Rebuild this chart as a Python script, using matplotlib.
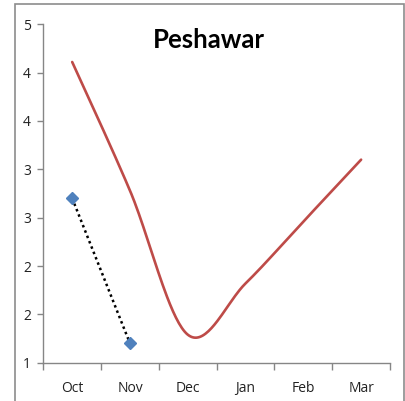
import numpy as np
import matplotlib
matplotlib.use("Agg")
import matplotlib.pyplot as plt
from matplotlib.patches import Rectangle
from matplotlib.ticker import FixedLocator, FixedFormatter

months = ["Oct", "Nov", "Dec", "Jan", "Feb", "Mar"]
series_red = [4.11, 2.78, 1.29, 1.82, 2.46, 3.10]
series_blue = [2.70, 1.20]
y_ticks = [1.0, 1.5, 2.0, 2.5, 3.0, 3.5, 4.0, 4.5]
y_tick_labels = ["1", "2", "2", "3", "3", "4", "4", "5"]


def smooth_curve(xs, ys, n=40):
    """Cubic Bezier smoothing through every point (Catmull-Rom style)."""
    pts = np.column_stack([xs, ys]).astype(float)
    out = []
    for i in range(len(pts) - 1):
        p0 = pts[i - 1] if i > 0 else pts[i]
        p1 = pts[i]
        p2 = pts[i + 1]
        p3 = pts[i + 2] if i + 2 < len(pts) else pts[i + 1]
        c1 = p1 + (p2 - p0) / 6.0
        c2 = p2 - (p3 - p1) / 6.0
        t = np.linspace(0, 1, n)[:, None]
        seg = ((1 - t) ** 3) * p1 + 3 * ((1 - t) ** 2) * t * c1 \
            + 3 * (1 - t) * t ** 2 * c2 + t ** 3 * p2
        out.append(seg if i == 0 else seg[1:])
    seg = np.vstack(out)
    return seg[:, 0], seg[:, 1]


fig = plt.figure(figsize=(4.06, 4.01), dpi=100)
ax = fig.add_axes([43.3 / 406, 1 - 362.7 / 401, (390 - 43.3) / 406, (362.7 - 24.3) / 401])

x_red = np.arange(len(series_red))
sx, sy = smooth_curve(x_red, series_red)
ax.plot(sx, sy, color="#BE4B48", lw=1.9, solid_capstyle="round", zorder=3)

x_blue = np.arange(len(series_blue))
ax.plot(x_blue, series_blue, color="black", lw=1.8, ls=(0, (1, 1.3)), zorder=2)
ax.plot(x_blue, series_blue, ls="none", marker="D", ms=6, color="#4F81BD",
        markeredgecolor="#4F81BD", zorder=4)

ax.set_xlim(-0.5, len(months) - 0.5)
ax.set_ylim(1, 4.5)

ax.xaxis.set_major_locator(FixedLocator(np.arange(len(months))))
ax.xaxis.set_major_formatter(FixedFormatter(months))
ax.xaxis.set_minor_locator(FixedLocator(np.arange(len(months) + 1) - 0.5))
ax.tick_params(axis="x", which="major", length=0, pad=13)
ax.tick_params(axis="x", which="minor", length=5, color="#868686", width=1)

ax.yaxis.set_major_locator(FixedLocator(y_ticks))
ax.yaxis.set_major_formatter(FixedFormatter(y_tick_labels))
ax.tick_params(axis="y", length=4, color="#868686", width=1, pad=5)

for lab in ax.get_xticklabels() + ax.get_yticklabels():
    lab.set_fontfamily("Open Sans")
    lab.set_fontsize(10)
    lab.set_color("#222222")

for side in ("top", "right"):
    ax.spines[side].set_visible(False)
for side in ("left", "bottom"):
    ax.spines[side].set_color("#868686")
    ax.spines[side].set_linewidth(1)

fig.text(209 / 406, 1 - 40 / 401, "Peshawar", ha="center", va="center",
         fontsize=18.5, fontweight="bold", fontfamily="Lato", color="black")

fig.patches.append(Rectangle((15 / 406, -0.01), (404 - 15) / 406, 1 - 3.5 / 401 + 0.01,
                             transform=fig.transFigure, fill=False,
                             edgecolor="#8C8C8C", lw=1.2))

fig.savefig("out.png", dpi=100)
